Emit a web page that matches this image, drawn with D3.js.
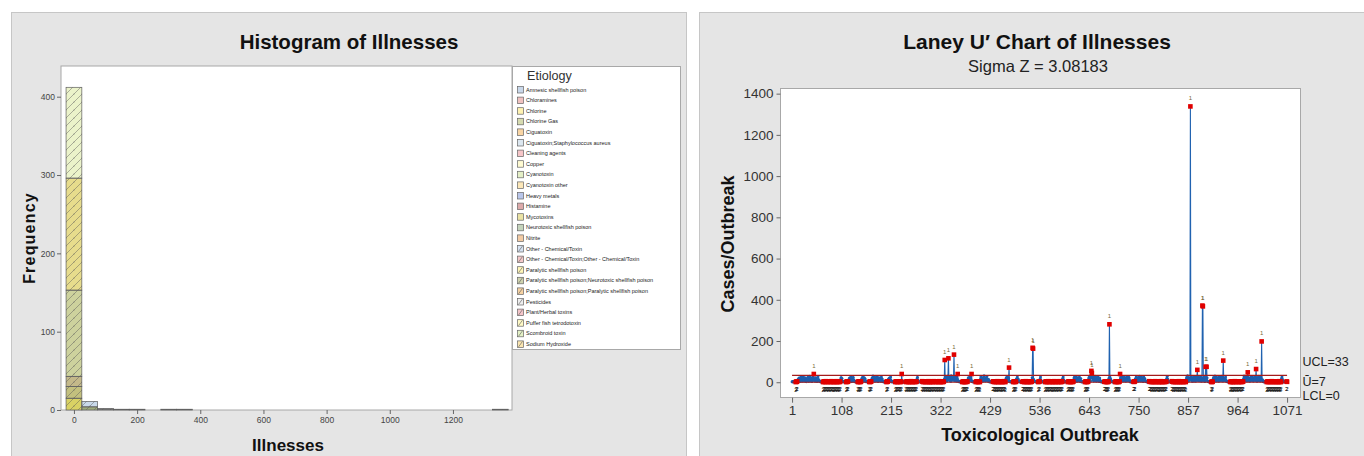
<!DOCTYPE html>
<html><head><meta charset="utf-8">
<script src="https://cdn.jsdelivr.net/npm/d3@7"></script>
<style>body{margin:0;background:#fff;} svg{display:block;font-family:"Liberation Sans",Arial,sans-serif;}</style>
</head><body><svg id="c" width="1364" height="456"></svg>
<script>
// ---------- Histogram data ----------
const etiologies = ["Amnesic shellfish poison","Chloramines","Chlorine","Chlorine Gas","Ciguatoxin",
 "Ciguatoxin;Staphylococcus aureus","Cleaning agents","Copper","Cyanotoxin","Cyanotoxin other",
 "Heavy metals","Histamine","Mycotoxins","Neurotoxic shellfish poison","Nitrite",
 "Other - Chemical/Toxin","Other - Chemical/Toxin;Other - Chemical/Toxin","Paralytic shellfish poison",
 "Paralytic shellfish poison;Neurotoxic shellfish poison","Paralytic shellfish poison;Paralytic shellfish poison",
 "Pesticides","Plant/Herbal toxins","Puffer fish tetrodotoxin","Scombroid toxin","Sodium Hydroxide"];
const histBins   = [0, 0, 0, 0, 0, 0, 50, 50, 100, 150, 200, 300, 350, 1350];
const histCounts = [15, 15, 13, 110, 143, 116, 4, 7, 2, 1, 1, 1, 1, 1];
const histXTicks = [0, 200, 400, 600, 800, 1000, 1200];
const histYTicks = [0, 100, 200, 300, 400];

// ---------- Laney U' data ----------
const uXTicks = [1,108,215,322,429,536,643,750,857,964,1071];
const uYTicks = [0,200,400,600,800,1000,1200,1400];
const uCenter = 7, uUCL = 33, uLCL = 0;
const cases = [
2,3,1,4,2,3,5,2,1,3, 2,4,9,15,6,21,11,4,17,25, 8,13,5,19,28,10,6,14,22,9, 3,16,12,7,24,18,5,11,29,13,
6,20,9,4,15,26,12,40,8,17, 5,22,10,14,3,19,27,8,12,6, 3,2,4,1,5,2,3,1,2,4, 2,3,1,5,2,4,3,2,1,3,
4,2,3,1,2,5,3,2,4,1, 3,2,1,4,2,3,5,1,2,3, 2,4,1,3,2,14,23,9,18,3, 2,4,1,3,5,2,3,1,2,4,
2,3,12,8,20,5,16,26,10,4, 18,9,24,13,6,3,2,4,1,2, 5,3,2,1,4,2,3,1,2,3, 11,19,7,28,14,5,22,9,16,6,
2,4,3,1,2,5,3,2,1,4, 2,3,13,21,8,30,11,17,5,24, 10,6,19,14,27,9,4,15,22,8, 12,18,5,25,11,16,3,2,4,1,
2,3,5,2,1,4,2,3,15,9, 21,6,13,26,10,2,3,1,4,2, 3,5,2,1,3,2,4,1,2,3, 2,4,3,2,1,3,2,40,3,1,
2,4,1,3,2,5,3,1,2,4, 3,2,1,4,2,3,1,5,2,3, 2,1,4,3,2,3,1,2,4,2, 16,24,11,3,1,2,4,2,3,1,
2,5,3,1,2,4,2,3,1,2, 4,3,2,1,3,5,2,1,2,3, 1,4,2,3,2,1,5,3,2,4, 2,1,3,2,4,3,1,2,5,2,
3,1,2,4,2,3,1,2,3,14, 108,22,9,27,15,6,18,30,116,12, 25,8,19,5,31,14,22,14,10,26, 134,18,7,28,12,24,5,16,40,9,
3,2,4,1,2,3,5,2,1,3, 2,4,1,3,2,1,3,2,4,2, 13,22,6,17,27,9,20,11,40,3, 2,4,1,3,2,5,2,1,3,2,
4,2,1,3,2,3,1,15,26,8, 19,12,5,23,14,31,9,17,6,21, 11,28,8,16,5,13,2,3,1,4, 2,3,5,1,2,4,3,2,1,3,
2,4,1,3,5,2,1,3,2,4, 3,1,2,2,4,1,3,2,5,3, 2,1,14,22,9,27,12,6,18,71, 3,2,4,1,2,3,5,2,1,3,
2,4,1,3,2,17,10,25,6,15, 3,2,1,4,2,3,5,1,2,3, 4,2,1,3,2,5,3,1,2,4, 2,3,1,4,2,3,1,2,3,22,
167,163,14,9,3,2,4,1,2,3, 5,2,1,3,2,4,16,25,11,2, 3,1,4,2,3,5,2,1,3,2, 4,1,2,3,5,2,1,3,2,4,
2,3,1,4,2,1,3,5,2,3, 1,2,4,3,2,1,3,2,5,2, 3,1,2,4,2,18,26,12,3,2, 1,4,2,3,5,2,1,3,2,4,
2,3,1,2,4,3,1,2,3,15, 24,8,19,6,28,13,5,21,10,17, 7,26,12,4,18,2,3,1,4,2, 3,5,2,1,3,2,4,1,2,3,
2,16,24,9,30,5,22,55,45,19, 27,11,6,20,14,29,8,17,5,23, 12,26,9,18,4,21,10,3,2,1, 4,2,3,5,1,2,3,2,4,1,
3,2,1,4,2,19,281,25,18,12, 3,2,4,1,2,3,5,2,1,3, 2,4,1,3,2,3,1,2,4,40, 14,22,8,27,11,6,19,13,25,9,
16,5,21,12,28,7,18,10,24,15, 3,2,1,4,2,3,5,1,2,3, 2,4,17,11,26,8,20,14,5,23, 12,29,9,18,6,24,13,21,10,4,
27,8,19,12,6,3,2,4,1,2, 3,1,5,2,3,2,4,1,2,3, 2,4,1,3,2,5,1,2,3,2, 4,3,1,2,3,1,2,5,2,3,
1,2,4,3,2,1,3,2,4,2, 19,28,14,3,2,1,4,2,3,1, 2,5,3,2,1,4,2,3,1,2, 3,4,2,1,3,2,5,1,2,3,
2,1,4,3,2,3,1,2,4,2, 3,1,15,24,9,31,12,6,20,11, 20,1338,18,27,8,5,22,6,17,25, 10,19,5,28,13,21,60,9,16,24,
7,18,11,26,14,5,20,372,368,12, 9,25,4,17,75,13,75,22,6,3, 2,4,1,3,2,5,2,1,3,2, 14,23,8,19,30,11,6,25,16,9,
21,13,5,27,18,10,24,8,15,29, 12,6,105,20,15,9,17,26,11,5, 3,2,4,1,2,3,5,2,1,3, 2,4,1,3,2,1,3,5,2,3,
1,2,4,3,2,1,3,2,4,2, 3,1,2,4,2,3,18,30,12,24, 9,20,14,6,27,48,22,11,17,5, 19,13,28,8,16,24,10,6,21,14,
26,9,18,64,12,5,23,15,8,29, 11,17,6,24,13,198,10,12,3,2, 4,1,3,2,5,2,1,3,2,4, 1,3,2,4,2,3,1,5,2,3,
2,1,4,3,2,3,1,2,4,2, 3,1,2,5,2,3,1,2,18,26, 14,2,3,1,4,2,3,1,2,4, 2
];

// ---------- styles ----------
const legendColors = ["#c9d8ea","#f0c2c0","#fff3b2","#d6dbb0","#f9d5a4","#dce7f0","#f6c6c8","#fffbd2",
 "#e4efc6","#fce7b8","#b9c6ea","#dcaaaa","#ebe3a4","#c5d4bc","#f3cba4","#d6e2f2","#f4c8c8","#fff6b8",
 "#cfd3ae","#f6d2a2","#eeeeee","#f6c6ca","#fffac6","#e4f2c6","#fbe6b0"];
const segColors = ["#d9d264","#c3c07e","#c4b98a","#cdd29d","#e7dc8c","#ebf3ca","#9eab7c","#c9d9ea","#777","#777","#777","#777","#777","#777"];

const svg = d3.select("#c");
const defs = svg.append("defs");
const pat = defs.append("pattern").attr("id","hatch").attr("patternUnits","userSpaceOnUse")
  .attr("width",8).attr("height",8);
pat.append("path").attr("d","M-2,10 L10,-2 M-2,2 L2,-2 M6,10 L10,6")
  .attr("stroke","#555").attr("stroke-width",0.6).attr("opacity",0.75);
pat.append("circle").attr("cx",2).attr("cy",6).attr("r",0.45).attr("fill","#444");

// panels
svg.append("rect").attr("x",11.5).attr("y",12.5).attr("width",675).attr("height",460)
  .attr("fill","#e5e5e5").attr("stroke","#c6c6c6");
svg.append("rect").attr("x",699.5).attr("y",12.5).attr("width",680).attr("height",460)
  .attr("fill","#e5e5e5").attr("stroke","#c6c6c6");

function styleAxis(g, size, color){
  g.select(".domain").remove();
  g.selectAll(".tick line").attr("stroke","#666");
  g.selectAll(".tick text").attr("font-size",size).attr("fill",color)
   .attr("font-family","'Liberation Sans',Arial,sans-serif");
}
const fmt = d3.format("d");

// ================= Histogram =================
const hx = d3.scaleLinear().domain([-41,1387]).range([61,512]);
const hy = d3.scaleLinear().domain([0,439.2]).range([410,66]);
svg.append("rect").attr("x",61).attr("y",66).attr("width",451).attr("height",344)
  .attr("fill","#fff").attr("stroke","#a8a8a8");

const cum = {};
const segs = histBins.map((b,k)=>{ const y0 = cum[b]||0; const y1 = y0+histCounts[k]; cum[b]=y1; return {b,y0,y1,k}; });
const binW = 50;
const sg = svg.append("g");
sg.selectAll("rect.f").data(segs).join("rect")
  .attr("x",d=>hx(d.b-binW/2)).attr("width",d=>hx(d.b+binW/2)-hx(d.b-binW/2))
  .attr("y",d=>hy(d.y1)).attr("height",d=>hy(d.y0)-hy(d.y1))
  .attr("fill",d=>segColors[d.k]);
sg.selectAll("rect.h").data(segs).join("rect")
  .attr("x",d=>hx(d.b-binW/2)).attr("width",d=>hx(d.b+binW/2)-hx(d.b-binW/2))
  .attr("y",d=>hy(d.y1)).attr("height",d=>Math.max(0.8,hy(d.y0)-hy(d.y1)))
  .attr("fill","url(#hatch)").attr("stroke","#5e5e5e").attr("stroke-width",0.7);

const hyAxis = svg.append("g").attr("transform","translate(61,0)")
  .call(d3.axisLeft(hy).tickValues(histYTicks).tickFormat(fmt).tickSize(4).tickPadding(2));
styleAxis(hyAxis, "8.5px", "#444");
const hxAxis = svg.append("g").attr("transform","translate(0,410)")
  .call(d3.axisBottom(hx).tickValues(histXTicks).tickFormat(fmt).tickSize(4).tickPadding(3));
styleAxis(hxAxis, "8.5px", "#444");

svg.append("text").attr("x",349).attr("y",49).attr("text-anchor","middle")
  .attr("font-size","20.5px").attr("font-weight","bold").attr("fill","#111").text("Histogram of Illnesses");
svg.append("text").attr("transform","translate(35,238) rotate(-90)").attr("text-anchor","middle")
  .attr("font-size","16px").attr("font-weight","bold").attr("letter-spacing","1.2px").attr("fill","#111").text("Frequency");
svg.append("text").attr("x",288).attr("y",451).attr("text-anchor","middle")
  .attr("font-size","17px").attr("font-weight","bold").attr("fill","#111").text("Illnesses");

// legend
svg.append("rect").attr("x",512.5).attr("y",66.5).attr("width",168).attr("height",283)
  .attr("fill","#fff").attr("stroke","#a8a8a8");
svg.append("text").attr("x",527).attr("y",80).attr("font-size","12.6px").attr("fill","#333").text("Etiology");
const lg = svg.append("g").selectAll("g").data(etiologies).join("g")
  .attr("transform",(d,i)=>`translate(517,${89.5+i*10.6})`);
lg.append("rect").attr("x",0.5).attr("y",-3).attr("width",6).attr("height",6.5)
  .attr("fill",(d,i)=>legendColors[i]).attr("stroke","#666").attr("stroke-width",0.7);
lg.filter((d,i)=>i>=15).append("path").attr("d","M1.5,3 L5.5,-2.5").attr("stroke","#555").attr("stroke-width",0.6);
lg.append("text").attr("x",9).attr("y",2).attr("font-size","5.5px").attr("fill","#222").text(d=>d);

// ================= Laney U' chart =================
const ux = d3.scaleLinear().domain([-24,1100]).range([780.5,1300.5]);
const uy = d3.scaleLinear().domain([-75,1424]).range([397.7,88.7]);
svg.append("rect").attr("x",780.5).attr("y",88.5).attr("width",520).attr("height",309)
  .attr("fill","#fff").attr("stroke","#a8a8a8");

// tests: 1 = beyond limits, 2 = 9 in a row on one side of center
let run = 0, side = 0;
const pts = cases.map((v,i)=>{
  const s = v>uCenter?1:(v<uCenter?-1:0);
  if (s!==0 && s===side) run++; else { side = s; run = s===0?0:1; }
  return {i:i+1, v, t1: v>uUCL || v<uLCL, t2: run>=9};
});

svg.append("line").attr("x1",ux(1)).attr("x2",ux(cases.length)).attr("y1",uy(uCenter)).attr("y2",uy(uCenter))
  .attr("stroke","#1a9a3a").attr("stroke-width",1);
const lineGen = d3.line().x(d=>ux(d.i)).y(d=>uy(d.v));
svg.append("path").datum(pts).attr("d",lineGen).attr("fill","none")
  .attr("stroke","#2062b0").attr("stroke-width",1.1);
svg.append("g").selectAll("circle").data(pts.filter(p=>!p.t1 && !p.t2)).join("circle")
  .attr("cx",d=>ux(d.i)).attr("cy",d=>uy(d.v)).attr("r",1.5).attr("fill","#1c5eae");
[uUCL, uLCL].forEach(v=>{
  svg.append("line").attr("x1",ux(1)).attr("x2",ux(cases.length)).attr("y1",uy(v)).attr("y2",uy(v))
    .attr("stroke","#a51c1c").attr("stroke-width",1.2);
});
const bad = pts.filter(p=>p.t1||p.t2);
svg.append("g").selectAll("rect").data(bad).join("rect")
  .attr("x",d=>ux(d.i)-2.3).attr("y",d=>uy(d.v)-2.3).attr("width",4.6).attr("height",4.6).attr("fill","#e00000");
svg.append("g").selectAll("text").data(bad).join("text")
  .attr("x",d=>ux(d.i)).attr("y",d=>d.t1? uy(d.v)-6 : uy(d.v)+9.5)
  .attr("text-anchor","middle").attr("font-size",d=>d.t1?"6px":"5.5px")
  .attr("fill",d=>d.t1?"#7a6a3a":"#222").text(d=>d.t1?"1":"2");

const uyAxis = svg.append("g").attr("transform","translate(780.5,0)")
  .call(d3.axisLeft(uy).tickValues(uYTicks).tickFormat(fmt).tickSize(4).tickPadding(3));
styleAxis(uyAxis, "13.5px", "#333");
const uxAxis = svg.append("g").attr("transform","translate(0,397.7)")
  .call(d3.axisBottom(ux).tickValues(uXTicks).tickFormat(fmt).tickSize(5).tickPadding(3));
styleAxis(uxAxis, "13.5px", "#333");

svg.append("text").attr("x",1037).attr("y",49).attr("text-anchor","middle")
  .attr("font-size","21px").attr("font-weight","bold").attr("fill","#111").text("Laney U\u2032 Chart of Illnesses");
svg.append("text").attr("x",1038).attr("y",72).attr("text-anchor","middle")
  .attr("font-size","16.5px").attr("fill","#222").text("Sigma Z = 3.08183");
svg.append("text").attr("transform","translate(734,244) rotate(-90)").attr("text-anchor","middle")
  .attr("font-size","18px").attr("font-weight","bold").attr("fill","#111").text("Cases/Outbreak");
svg.append("text").attr("x",1040).attr("y",440.5).attr("text-anchor","middle")
  .attr("font-size","18px").attr("font-weight","bold").attr("fill","#111").text("Toxicological Outbreak");

const limLabels = [["UCL=33",366],["\u016A=7",385.5],["LCL=0",400]];
svg.append("g").selectAll("text").data(limLabels).join("text")
  .attr("x",1302.5).attr("y",d=>d[1]).attr("font-size","12.5px").attr("fill","#222").text(d=>d[0]);
</script></body></html>
